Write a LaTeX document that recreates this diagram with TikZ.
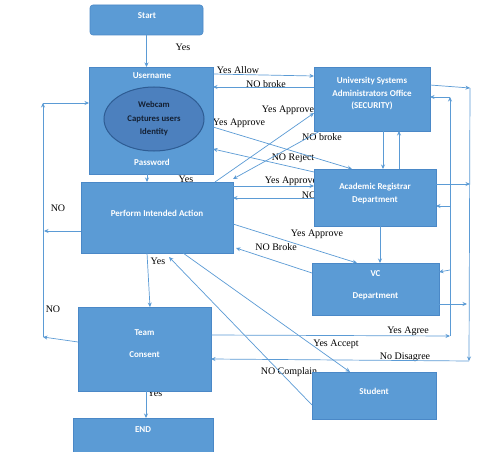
\documentclass[tikz,border=0pt]{standalone}
\usepackage{fontspec}
\setmainfont{Liberation Serif}
\newfontfamily\boxfont{Carlito}
\usetikzlibrary{arrows.meta,calc,shapes.geometric}
\definecolor{boxblue}{HTML}{5B9BD5}
\definecolor{boxedge}{HTML}{4A88C7}
\definecolor{ellfill}{HTML}{4C80BE}
\definecolor{elledge}{HTML}{2E5C93}
\definecolor{linkblue}{HTML}{5B9BD5}
\definecolor{elltext}{HTML}{142033}
\begin{document}
\begin{tikzpicture}[x=1pt,y=-1pt,
 box/.style={draw=boxedge,fill=boxblue,line width=0.6pt,inner sep=0pt,outer sep=0pt},
 btext/.style={text=white,font=\boxfont\bfseries\fontsize{9}{12.5}\selectfont,align=center,inner sep=0pt},
 lbl/.style={font=\fontsize{10}{12}\selectfont,inner sep=0pt,text=black},
 link/.style={draw=linkblue,line width=0.7pt,-{Stealth[length=4.5pt,width=4pt]}}]
\useasboundingbox (0,0) rectangle (477,452);
\fill[white] (0,0) rectangle (477,452);

% connector labels (drawn first, boxes may cover them)
\node[lbl] (l1) at (183,47) {Yes};
\node[lbl] (l2) at (238,70) {Yes Allow};
\node[lbl] (l3) at (266,84) {NO broke};
\node[lbl] (l4) at (288,110) {Yes Approve};
\node[lbl] (l5) at (239,123) {Yes Approve};
\node[lbl] (l6) at (322,137) {NO broke};
\node[lbl] (l7) at (293,158) {NO Reject};
\node[lbl] (l8) at (186,179) {Yes};
\node[lbl] (l9) at (291,181) {Yes Approve};
\node[lbl] (l10) at (309,195) {NO};
\node[lbl] (l11) at (317,234) {Yes Approve};
\node[lbl] (l12) at (276,247) {NO Broke};
\node[lbl] (l13) at (58,208) {NO};
\node[lbl] (l14) at (53,309) {NO};
\node[lbl] (l15) at (158,261) {Yes};
\node[lbl] (l16) at (408,331) {Yes Agree};
\node[lbl] (l17) at (336,344) {Yes Accept};
\node[lbl] (l18) at (405,357) {No Disagree};
\node[lbl] (l19) at (289,372) {NO Complain};
\node[lbl] (l20) at (155,393) {Yes};

% boxes
\node[box,rounded corners=3pt,minimum width=113pt,minimum height=30pt] (start) at (146.5,20) {};
\node[box,minimum width=124pt,minimum height=107pt] (user) at (151,120.5) {};
\node[ellipse,draw=elledge,fill=ellfill,line width=1pt,minimum width=100pt,minimum height=64pt,inner sep=0pt,
      text=elltext,font=\boxfont\bfseries\fontsize{8.7}{13.5}\selectfont,align=center] (ell) at (154,119) {Webcam\\Captures users\\Identity};
\node[box,minimum width=152pt,minimum height=71pt] (perf) at (157,217.5) {};
\node[box,minimum width=133pt,minimum height=84pt] (team) at (144.5,349) {};
\node[box,minimum width=140pt,minimum height=34pt] (end) at (143,435) {};
\node[box,minimum width=116pt,minimum height=64pt] (uso) at (372,99) {};
\node[box,minimum width=122pt,minimum height=57pt] (ard) at (375,197.5) {};
\node[box,minimum width=127pt,minimum height=52pt] (vc) at (375.5,289) {};
\node[box,minimum width=124pt,minimum height=47pt] (stu) at (374,395.5) {};

% box texts
\node[btext] (start-t) at (147,16) {Start};
\node[btext] (user-u) at (152,76) {Username};
\node[btext] (user-p) at (152,162) {Password};
\node[btext] (perf-t) at (157,213) {Perform Intended Action};
\node[btext] (uso-t) at (372,94) {University Systems\\Administrators Office\\(SECURITY)};
\node[btext] (ard-t) at (375,193.5) {Academic Registrar\\Department};
\node[btext] (vc-t) at (375.5,285) {VC\\[9.5pt]Department};
\node[btext] (team-t) at (144.5,344) {Team\\[9.5pt]Consent};
\node[btext] (end-t) at (143,430) {END};
\node[btext] (stu-t) at (374,391) {Student};

% connectors
\draw[link] (start.south) -- (start.south |- user.north);
\draw[link] (user.east |- 0,74) -- (uso.west |- 0,76);
\draw[link] (uso.west |- 0,87) -- (user.east |- 0,87);
\draw[link] (perf.north -| 215,0) -- (uso.west |- 0,113);
\draw[link] (user.east |- 0,127) -- (ard.north -| 352,0);
\draw[link] (uso.south -| 320,0) -- ([yshift=3pt]perf.north east);
\draw[link] (ard.west |- 0,172) -- (user.east |- 0,149);
\draw[link] (perf.east |- 0,186) -- (ard.west |- 0,186);
\draw[link] (ard.west |- 0,198) -- (perf.east |- 0,198);
\draw[link] (perf.east |- 0,224) -- (vc.north -| 357,0);
\draw[link] (vc.west |- 0,273) -- ([xshift=3pt,yshift=5pt]perf.south east);
\draw[link] (ard.south -| 380,0) -- (vc.north -| 380,0);
\draw[link] (uso.south -| 383,0) -- (ard.north -| 383,0);
\draw[link] (ard.north -| 399,0) -- (uso.south -| 399,0);
\draw[link] (user.south -| 147,0) -- (perf.north -| 147,0);
\draw[link] (perf.south -| 147,0) -- (team.north -| 150,0);
\draw[link] (team.south -| 146,0) -- (end.north -| 146,0);

% left loop
\coordinate (lbot) at (43,337);
\coordinate (ltop) at (43,103);
\coordinate (lmid) at (44,231);
\draw[link] (team.west |- 0,342) -- (lbot);
\draw[link] (lbot) -- (ltop);
\draw[link] (ltop) -- (user.west |- ltop);
\draw[link] (perf.west |- lmid) -- (lmid);

% inner right bus
\coordinate (ib) at (450,336);
\coordinate (it) at (450,97);
\coordinate (ia) at (450,206);
\coordinate (iv) at (450,270);
\draw[link] (team.east |- 0,335) -- (ib);
\draw[link] (ib) -- (it);
\draw[link] (it) -- (uso.east |- it);
\draw[link] (ia) -- (ard.east |- ia);
\draw[link] (iv) -- (vc.east |- 0,272);

% outer right bus
\coordinate (ot) at (470,88);
\coordinate (oa) at (470,184);
\coordinate (ov) at (467,304);
\coordinate (ob) at (469,361);
\draw[link] (uso.east |- 0,85) -- (ot);
\draw[link] (ard.east |- oa) -- (oa);
\draw[link] (vc.east |- ov) -- (ov);
\draw[link] (ot) -- (ob);
\draw[link] (ob) -- (team.east |- 0,359);

% student links
\draw[link] (perf.south -| 183,0) -- (stu.north -| 350,0);
\draw[link] (stu.west |- 0,405) -- ([xshift=12pt,yshift=-4pt]perf.south);
\end{tikzpicture}
\end{document}
